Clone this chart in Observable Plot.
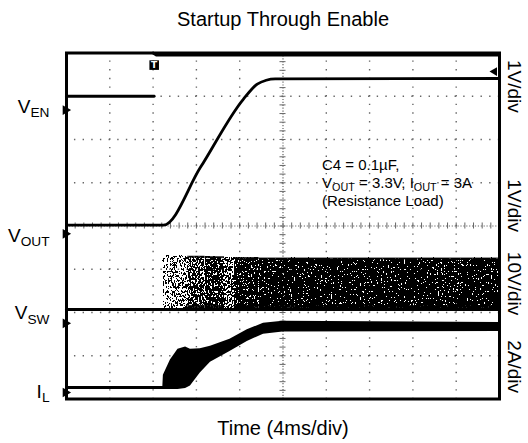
<!DOCTYPE html>
<html><head><meta charset="utf-8">
<script src="https://cdn.jsdelivr.net/npm/d3@7"></script>
<script src="https://cdn.jsdelivr.net/npm/@observablehq/plot@0.6"></script>
<style>body{margin:0;background:#fff} svg{display:block}</style>
</head><body><div id="chart"></div>
<script>
// x: time in ms (4 ms/div, 10 div); y: level in scope divisions (0..8)
const title = "Startup Through Enable";
const xLabel = "Time (4ms/div)";
const channelNames = ["V_{EN}", "V_{OUT}", "V_{SW}", "I_{L}"];
const channelMarkerY = [6.68, 3.82, 1.75, 0.15];
const channelLabelY = [6.76, 3.78, 1.98, 0.17];
const scaleLabels = ["1V/div", "1V/div", "10V/div", "2A/div"];
const scaleLabelY = [7.23, 4.47, 2.67, 0.75];
const noteLines = ["C4 = 0.1µF,", "V_{OUT} = 3.3V, I_{OUT} = 3A", "(Resistance Load)"];

// V_EN trace (before / after the enable edge, clipped at top)
const venLowT = [0, 8.1];
const venLowV = [7.0, 7.0];
const venHighT = [8.0, 8.3, 40];
const venHighV = [8.0, 7.95, 7.95];
// V_OUT trace
const voutT = [0, 8.95, 12.36, 16.33, 17.62, 18.45, 19.28, 40];
const voutV = [4.02, 4.02, 5.35, 6.93, 7.28, 7.37, 7.40, 7.41];
// V_SW low level and switching envelope (density = share of the band that is inked)
const vswT = [0, 40];
const vswV = [2.07, 2.07];
const vswBandStart = [8.95, 9.6, 11.2, 12.8, 14.6, 15.5, 17.8];
const vswBandEnd = [9.6, 11.2, 12.8, 14.6, 15.5, 17.8, 40];
const vswBandTop = [3.31, 3.30, 3.29, 3.28, 3.27, 3.26, 3.25];
const vswBandDensity = [0.3, 0.42, 0.68, 0.78, 0.55, 0.88, 0.95];
// I_L envelope
const ilT =  [0,    8.9,  8.95, 9.6,  10.3, 11.0, 11.45, 12.36, 13.3, 15.1, 16.7, 18.2, 20.0, 40];
const ilLo = [0.22, 0.22, 0.22, 0.22, 0.22, 0.24, 0.30,  0.60,  0.85, 1.10, 1.33, 1.50, 1.55, 1.56];
const ilHi = [0.29, 0.29, 0.55, 0.90, 1.15, 1.20, 1.15,  1.16,  1.22, 1.38, 1.60, 1.75, 1.80, 1.77];

// graticule
const gridT = [4, 8, 12, 16, 24, 28, 32, 36];
const gridV = [1, 2, 3, 5, 6, 7];
const minorT = d3.range(0, 40.001, 0.8);
const minorV = d3.range(0, 8.001, 0.2);
const trigT = 8.1, trigV = 7.72;
const trigLevelV = 7.57;

const font = "'Liberation Sans', Arial, Helvetica, sans-serif";
const pts = (xs, ys) => xs.map((x, i) => ({x, y: ys[i]}));
const band = vswBandStart.map((s, i) => ({x1: s, x2: vswBandEnd[i], y1: vswV[0] - 0.04, y2: vswBandTop[i], d: vswBandDensity[i]}));
const ilBand = ilT.map((t, i) => ({x: t, lo: ilLo[i], hi: ilHi[i]}));

const dotted = {stroke: "#666", strokeWidth: 1.4, strokeDasharray: "1.4,7.25"};

function defsMark() {
  const NS = "http://www.w3.org/2000/svg";
  const defs = document.createElementNS(NS, "defs");
  defs.innerHTML = `
    <filter id="speckle" x="0" y="0" width="1" height="1" color-interpolation-filters="sRGB">
      <feTurbulence type="fractalNoise" baseFrequency="0.7 0.45" numOctaves="2" seed="11" result="n"/>
      <feColorMatrix in="n" type="matrix" values="0 0 0 0 0  0 0 0 0 0  0 0 0 0 0  1 0 0 0 0" result="na"/>
      <feComposite in="SourceAlpha" in2="na" operator="arithmetic" k1="0" k2="1" k3="2.5" k4="-1.25" result="m"/>
      <feComponentTransfer in="m"><feFuncA type="discrete" tableValues="0 1"/></feComponentTransfer>
    </filter>`;
  return defs;
}

const dense = band.filter(b => b.d > 0.6);

const chart = Plot.plot({
  width: 528, height: 443,
  marginTop: 52.5, marginBottom: 44.5, marginLeft: 66, marginRight: 29,
  x: {domain: [0, 40], axis: null},
  y: {domain: [0, 8], axis: null},
  style: {fontFamily: font, background: "#fff", color: "#000"},
  marks: [
    defsMark,
    Plot.ruleX(gridT, {...dotted, strokeDashoffset: 0.7}),
    Plot.ruleY(gridV, {...dotted, strokeDashoffset: 0.7}),
    Plot.ruleX([20], {stroke: "#666", strokeWidth: 1.2, strokeDasharray: "1.2,1.7"}),
    Plot.ruleY([4], {stroke: "#666", strokeWidth: 1.2, strokeDasharray: "1.2,1.7"}),
    Plot.ruleX(minorT, {x: d => d, y1: 3.93, y2: 4.07, stroke: "#666", strokeWidth: 1}),
    Plot.ruleY(minorV, {y: d => d, x1: 19.72, x2: 20.28, stroke: "#666", strokeWidth: 1}),
    // traces
    Plot.rect(band, {x1: "x1", x2: "x2", y1: "y1", y2: "y2", fill: "#000", fillOpacity: "d"}),
    Plot.ruleY(dense, {y: "y2", x1: "x1", x2: "x2", stroke: "#000", strokeWidth: 2, strokeOpacity: 0.8}),
    Plot.ruleY(dense, {y: d => d.y1 + 0.1, x1: "x1", x2: "x2", stroke: "#000", strokeWidth: 4, strokeOpacity: 0.85}),
    Plot.line(pts(vswT, vswV), {x: "x", y: "y", stroke: "#000", strokeWidth: 3}),
    Plot.areaY(ilBand, {x: "x", y1: "lo", y2: "hi", fill: "#000", curve: "linear"}),
    Plot.line(pts(venLowT, venLowV), {x: "x", y: "y", stroke: "#000", strokeWidth: 2.8}),
    Plot.line(pts(venHighT, venHighV), {x: "x", y: "y", stroke: "#000", strokeWidth: 2.8}),
    Plot.line(pts(voutT, voutV), {x: "x", y: "y", stroke: "#000", strokeWidth: 2.8, curve: "monotone-x"}),
    Plot.frame({stroke: "#000", strokeWidth: 3}),
    // markers
    Plot.dot(channelMarkerY, {x: 0, y: d => d, symbol: "triangle", rotate: 90, r: 3.6, fill: "#000", stroke: null, dx: -1}),
    Plot.dot([trigLevelV], {x: 40, y: d => d, symbol: "triangle", rotate: -90, r: 3.2, fill: "#000", stroke: null, dx: -5}),
    Plot.dot([trigV], {x: trigT, y: d => d, symbol: "square", r: 5.4, fill: "#000", stroke: null}),
    Plot.text(["T"], {x: trigT, y: trigV, fill: "#fff", fontSize: 9, fontWeight: "bold", fontFamily: "'DejaVu Sans', sans-serif"}),
    // labels
    Plot.text(channelNames, {frameAnchor: "left", y: (d, i) => channelLabelY[i], dx: -17, textAnchor: "end", lineAnchor: "middle", fontSize: 19}),
    Plot.text(scaleLabels, {frameAnchor: "right", y: (d, i) => scaleLabelY[i], dx: 15, rotate: 90, textAnchor: "middle", lineAnchor: "middle", fontSize: 19}),
    Plot.text([noteLines.join("\n")], {x: 23.6, y: 5.01, textAnchor: "start", lineAnchor: "middle", fontSize: 15, lineHeight: 1.2}),
    Plot.text([title], {frameAnchor: "top", dy: -33, lineAnchor: "middle", fontSize: 20}),
    Plot.text([xLabel], {frameAnchor: "bottom", dy: 29.5, lineAnchor: "middle", fontSize: 20})
  ]
});

chart.querySelectorAll('g[aria-label="rect"] rect').forEach(r => r.setAttribute("filter", "url(#speckle)"));

function applySubs(root) {
  const NS = "http://www.w3.org/2000/svg";
  root.querySelectorAll("text, tspan").forEach(el => {
    if (el.children.length) return;
    const s = el.textContent;
    if (!s.includes("_{")) return;
    el.textContent = "";
    let shifted = false;
    s.split(/(_\{[^}]*\})/).forEach(p => {
      if (!p) return;
      const t = document.createElementNS(NS, "tspan");
      if (p.startsWith("_{")) {
        t.textContent = p.slice(2, -1);
        t.setAttribute("font-size", "0.72em");
        t.setAttribute("dy", "0.3em");
        shifted = true;
      } else {
        t.textContent = p;
        if (shifted) { t.setAttribute("dy", "-0.216em"); shifted = false; }
      }
      el.appendChild(t);
    });
  });
}
applySubs(chart);
document.getElementById("chart").appendChild(chart);
</script>
</body></html>
